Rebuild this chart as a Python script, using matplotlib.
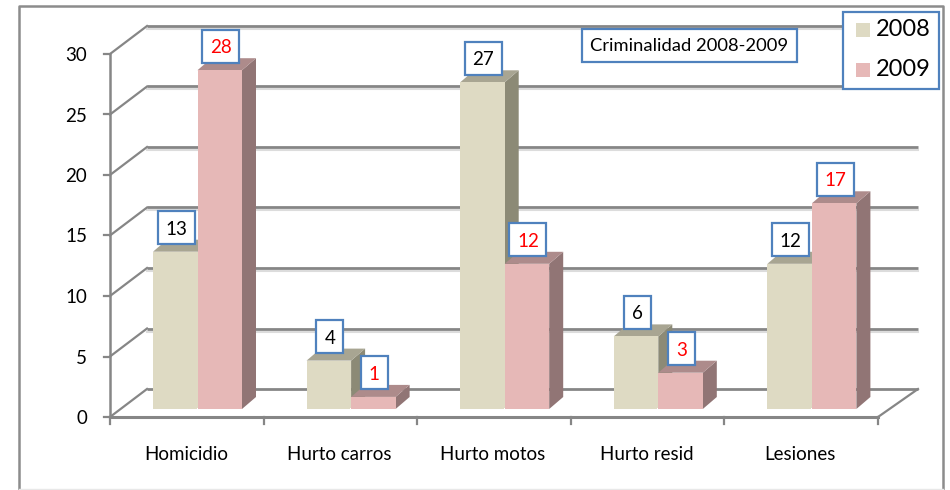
import matplotlib
matplotlib.use("Agg")
import matplotlib.pyplot as plt
from matplotlib.patches import Polygon, Rectangle

plt.rcParams["font.family"] = ["Lato", "DejaVu Sans"]

categories = ["Homicidio", "Hurto carros", "Hurto motos", "Hurto resid", "Lesiones"]
values_2008 = [13, 4, 27, 6, 12]
values_2009 = [28, 1, 12, 3, 17]
y_ticks = [0, 5, 10, 15, 20, 25, 30]

GRID = "#868686"
SHADOW = "#dcdcdc"
BLUE = "#4f81bd"
COLORS = {
    "2008": {"front": "#dedac3", "side": "#8c8a76", "top": "#a8a592"},
    "2009": {"front": "#e6b8b7", "side": "#917575", "top": "#ad8b8b"},
}

W, H = 950, 490
# plot area in pixels of the figure
LEFT, RIGHT, BOTTOM, TOP = 110, 878, 417, 54
PX_X = (RIGHT - LEFT) / len(categories)
PX_Y = (BOTTOM - TOP) / y_ticks[-1]


def px(n):
    return n / PX_X


def py(n):
    return n / PX_Y


fig = plt.figure(figsize=(W / 100, H / 100), dpi=100)
ax = fig.add_axes([LEFT / W, 1 - BOTTOM / H, (RIGHT - LEFT) / W, (BOTTOM - TOP) / H])
ax.set_xlim(0, len(categories))
ax.set_ylim(0, y_ticks[-1])
ax.axis("off")

wall_dx, wall_dy = px(37), py(28)
right_dx = px(40)

# walls: gridlines at the back and the slanted bits on the left
for t in y_ticks:
    back = t + wall_dy
    end = len(categories) + right_dx
    if t > 0:
        ax.plot([wall_dx, end], [back - py(3)] * 2, color=SHADOW, lw=1.5, clip_on=False, zorder=1)
    ax.plot([wall_dx, end], [back, back], color=GRID, lw=2, clip_on=False, zorder=2,
            solid_capstyle="butt")
    ax.plot([0, wall_dx], [t, back], color=GRID, lw=1.6, clip_on=False, zorder=2)
    ax.plot([-px(6), 0], [t, t], color=GRID, lw=1.6, clip_on=False, zorder=2)

# floor edge, right side
ax.plot([len(categories), len(categories) + right_dx], [0, wall_dy], color=GRID, lw=1.6,
        clip_on=False, zorder=2)

# axes
ax.plot([0, 0], [0, y_ticks[-1]], color=GRID, lw=1.8, clip_on=False, zorder=6)
ax.plot([0, len(categories)], [0, 0], color=GRID, lw=2.2, clip_on=False, zorder=6)
for i in range(len(categories) + 1):
    ax.plot([i, i], [0, -py(7)], color=GRID, lw=1.6, clip_on=False, zorder=6)

bar_w = px(44.5)
bar_start = px(43)
base = py(8)
depth_x, depth_y = px(14), py(12)


def draw_bar(x, val, colors, z):
    y0, y1 = base, base + val
    x1 = x + bar_w
    # white halo round the foot of the bar
    ax.add_patch(Rectangle((x - px(1), y0 - py(1)), bar_w + px(2), py(2), fc="white", ec="none", zorder=z))
    ax.add_patch(Polygon([(x1, y0), (x1 + depth_x, y0 + depth_y), (x1 + depth_x, y1 + depth_y), (x1, y1)],
                         fc=colors["side"], ec="none", zorder=z, clip_on=False))
    ax.add_patch(Polygon([(x, y1), (x + depth_x, y1 + depth_y), (x1 + depth_x, y1 + depth_y), (x1, y1)],
                         fc=colors["top"], ec="none", zorder=z, clip_on=False))
    ax.add_patch(Rectangle((x, y0), bar_w, val, fc=colors["front"], ec="none", zorder=z + 0.1, clip_on=False))


def value_box(x, val, color):
    cx = x + bar_w / 2 + px(1)
    cy = base + val + py(24)
    w = px(37) if val >= 10 else px(27)
    h = py(33)
    ax.add_patch(Rectangle((cx - w / 2, cy - h / 2), w, h, fc="white", ec=BLUE, lw=1.6, zorder=8,
                           clip_on=False))
    ax.text(cx, cy, str(val), ha="center", va="center_baseline", fontsize=13.5, color=color, zorder=9)


for i in range(len(categories)):
    x_a = i + bar_start
    x_b = x_a + bar_w
    draw_bar(x_a, values_2008[i], COLORS["2008"], 3)
    draw_bar(x_b, values_2009[i], COLORS["2009"], 4)

for i in range(len(categories)):
    x_a = i + bar_start
    x_b = x_a + bar_w
    value_box(x_a, values_2008[i], "black")
    value_box(x_b, values_2009[i], "#ff0000")
    ax.text(i + 0.5 + px(-1), -py(37), categories[i], ha="center", va="center", fontsize=13.5,
            color="black", zorder=6)

for t in y_ticks:
    ax.text(-px(23), t, str(t), ha="right", va="center_baseline", fontsize=13.5, color="black", clip_on=False)

# outer frame, title box and legend are placed on the figure
frame = fig.add_axes([0, 0, 1, 1], zorder=5)
frame.set_xlim(0, W)
frame.set_ylim(H, 0)
frame.axis("off")
frame.patch.set_alpha(0)
frame.plot([19, 19, 943, 943], [489, 6, 6, 489], color="#8c8c8c", lw=1.8)
frame.plot([19, 943], [489, 489], color="#e8e8e8", lw=1)

frame.add_patch(Rectangle((582, 29), 215, 33, fc="white", ec=BLUE, lw=1.6))
frame.text(689.5, 46, "Criminalidad 2008-2009", ha="center", va="center", fontsize=13.2, color="black")

frame.add_patch(Rectangle((843, 12), 96, 77, fc="white", ec=BLUE, lw=1.6))
for name, yc in zip(["2008", "2009"], [30, 70]):
    frame.add_patch(Rectangle((856, yc - 7), 14, 14, fc=COLORS[name]["front"], ec="none"))
    frame.text(876, yc, name, ha="left", va="center", fontsize=17, color="black")

fig.savefig("out.png", dpi=100, facecolor="white")
